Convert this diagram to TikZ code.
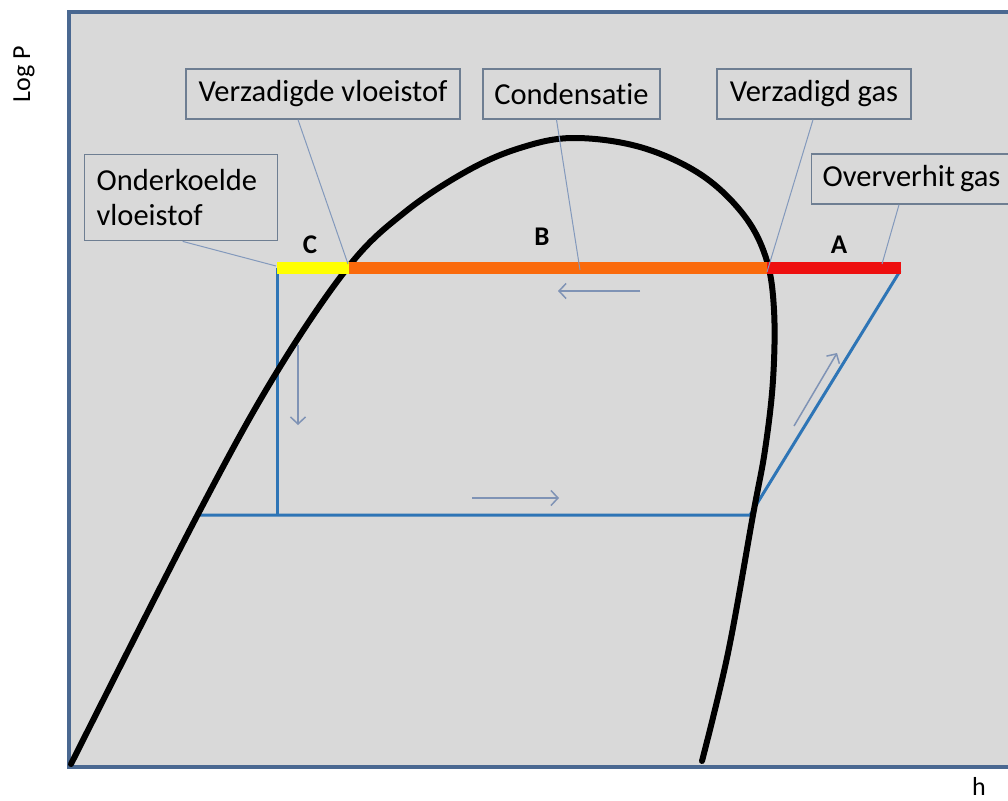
\documentclass[tikz,border=0pt]{standalone}
\usepackage{fontspec}
\setmainfont{Carlito}[Ligatures=NoCommon]
\usetikzlibrary{arrows.meta}
\definecolor{bg}{HTML}{D9D9D9}
\definecolor{frame}{HTML}{4A6891}
\definecolor{boxline}{HTML}{6E7E92}
\definecolor{leadc}{HTML}{8399BC}
\definecolor{cyc}{HTML}{2E75B6}
\definecolor{arrc}{HTML}{7F93B5}
\definecolor{barY}{HTML}{FFFF00}
\definecolor{barO}{HTML}{FA6A0C}
\definecolor{barR}{HTML}{EE0F0F}
\tikzset{
  lbox/.style={draw=boxline, line width=1.4pt, fill=bg, font=\fontsize{30.5}{35}\selectfont, inner sep=0pt, minimum height=50pt},
  leader/.style={draw=leadc, line width=1pt},
  cycle line/.style={draw=cyc, line width=3pt},
  flow/.style={draw=arrc, line width=1.5pt, -{Straight Barb[length=7pt,width=15pt,line width=1.5pt]}},
  bar/.style={line width=12pt},
  seg/.style={font=\fontsize{27}{30}\selectfont\bfseries},
  axlab/.style={font=\fontsize{26}{30}\selectfont}
}
\begin{document}
\begin{tikzpicture}[x=1pt,y=-1pt]
\useasboundingbox (0,0) rectangle (1008,800);
% background panel
\fill[bg] (69,12) rectangle (1008,767);
\draw[frame, line width=3.5pt] (1008,12) -- (69,12) -- (69,767) -- (1008,767);
% axis labels
\node[axlab, rotate=90, anchor=base] (logp) at (30,74) {Log P};
\node[axlab, anchor=base] (hlab) at (979,795) {h};
% cycle coordinates
\coordinate (cTop) at (277,268);
\coordinate (cBot) at (277,515);
\coordinate (lEnd) at (197,515);
\coordinate (eEnd) at (750,515);
\coordinate (aEnd) at (900,271);
% blue cycle
\draw[cycle line] (cTop) -- (cBot);
\draw[cycle line] (lEnd) -- (eEnd) -- (aEnd);
% saturation dome
\draw[line width=6pt, line cap=round] plot[smooth, tension=0.6] coordinates {
 (71,764) (197,516) (275,375) (349,266) (405,212) (467,171) (520,148)
 (573,138) (640,147) (700,174) (743,214) (766,258) (774,310)
 (773,380) (765,450) (753,515) (728,653) (702,761)};
% bars
\coordinate (pC) at (349,268);
\coordinate (pB) at (767,268);
\coordinate (pA) at (901,268);
\draw[bar, barY] (cTop) -- (pC);
\draw[bar, barO] (pC) -- (pB);
\draw[bar, barR] (pB) -- (pA);
% segment letters
\node[seg] (lc) at (310,245) {C};
\node[seg] (lb) at (542,237) {B};
\node[seg] (la) at (839,245) {A};
% flow arrows
\coordinate (f1s) at (640,291); \coordinate (f1e) at (558,291);
\coordinate (f2s) at (298,345); \coordinate (f2e) at (298,425);
\coordinate (f3s) at (472,498); \coordinate (f3e) at (559,498);
\coordinate (f4s) at (794,426); \coordinate (f4e) at (837,353);
\draw[flow] (f1s) -- (f1e);
\draw[flow] (f2s) -- (f2e);
\draw[flow] (f3s) -- (f3e);
\draw[flow] (f4s) -- (f4e);
% label boxes
\node[lbox, minimum width=274pt] (vv) at (323,94) {Verzadigde vloeistof};
\node[lbox, minimum width=177pt] (cond) at (571.5,94) {Condensatie};
\node[lbox, minimum width=194pt] (vg) at (814,94) {Verzadigd gas};
\node[lbox, anchor=west, text width=200pt, inner xsep=11pt, align=left] (og) at (811,179) {Oververhit\hspace{5pt}gas};
\node[lbox, anchor=north west, text width=169pt, inner xsep=12pt, minimum height=86pt, align=left] (ok) at (84,154) {Onderkoelde\\vloeistof};
% leader lines
\coordinate (tC) at (276,266);
\coordinate (tVV) at (348,264);
\coordinate (tCond) at (580,270);
\coordinate (tVG) at (767,272);
\coordinate (tOG) at (882,264);
\draw[leader] ([xshift=1.5pt]ok.south) -- (tC);
\draw[leader] ([xshift=-25pt]vv.south) -- (tVV);
\draw[leader] ([xshift=-15pt]cond.south) -- (tCond);
\draw[leader] ([xshift=-1pt]vg.south) -- (tVG);
\draw[leader] (og.south west) ++(88pt,0) -- (tOG);
\end{tikzpicture}
\end{document}
